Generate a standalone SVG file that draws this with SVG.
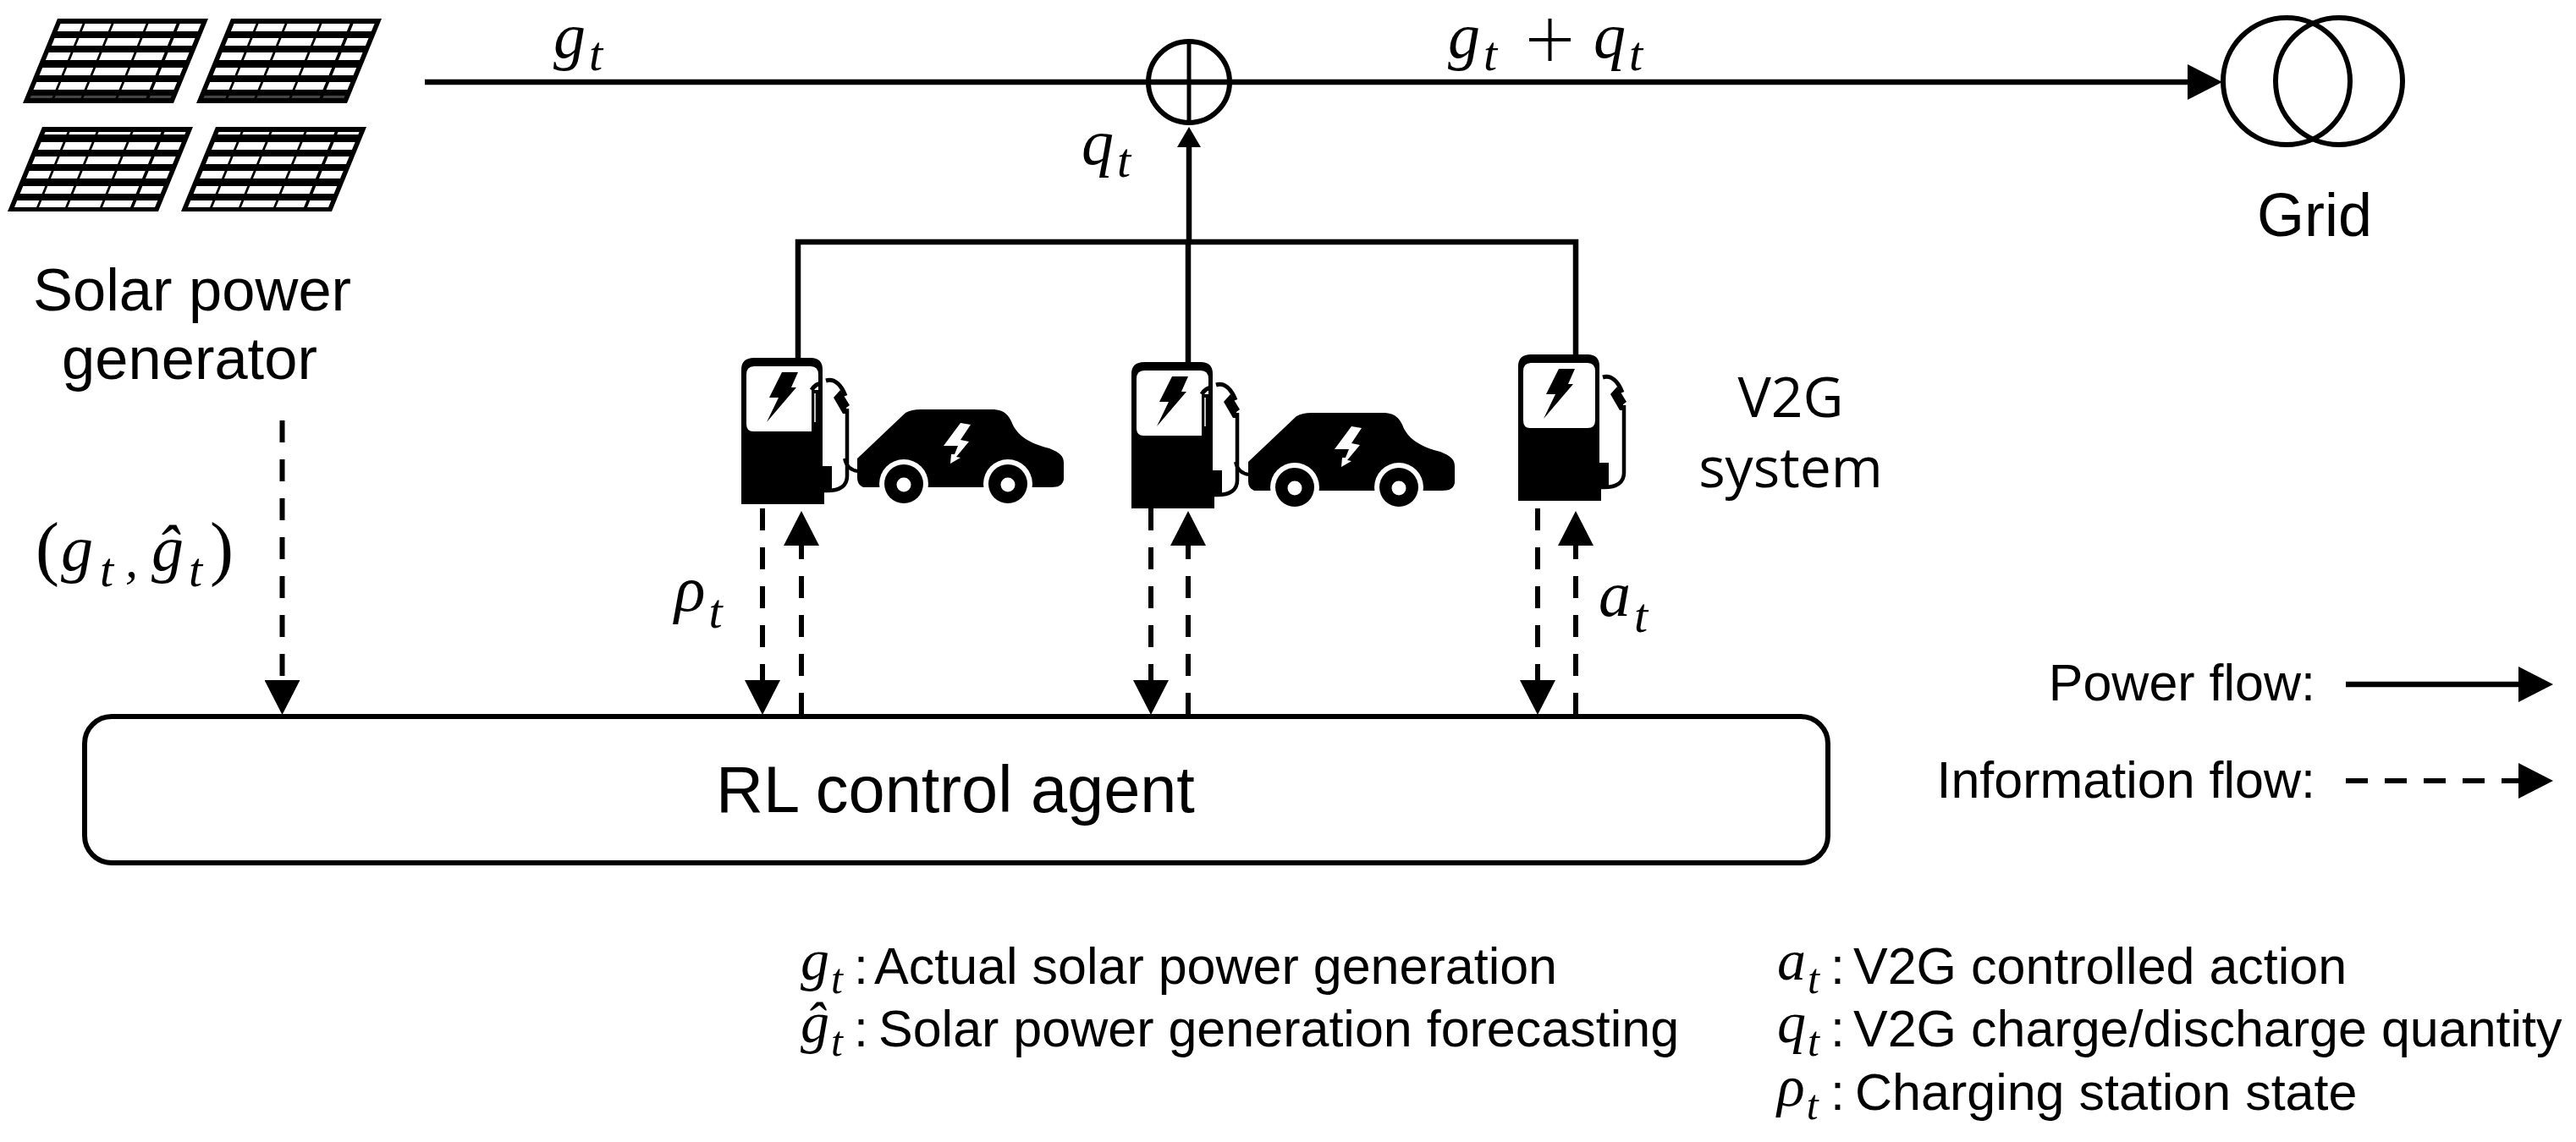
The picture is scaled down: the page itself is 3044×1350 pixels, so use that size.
<svg xmlns="http://www.w3.org/2000/svg" width="3044" height="1350" viewBox="0 0 3044 1350">
<style>
.sans{font-family:"Liberation Sans",Arial,sans-serif;fill:#000}
.math{font-family:"Liberation Serif","Times New Roman",serif;font-style:italic;fill:#000;font-size:76px}
.sub{font-size:58px}
.gm{font-family:"Liberation Serif","Times New Roman",serif;font-style:italic;fill:#000;font-size:68px}
.gs{font-size:50px}
.gt{font-family:"Liberation Sans",Arial,sans-serif;fill:#000;font-size:61px}
.solid{fill:none;stroke:#000;stroke-width:6.5}
.dash{fill:none;stroke:#000;stroke-width:6;stroke-dasharray:26 20}
.ring{fill:none;stroke:#000;stroke-width:6}
</style>
<defs>
<marker id="head" markerUnits="userSpaceOnUse" viewBox="0 0 41 42" refX="29" refY="21" markerWidth="41" markerHeight="42" orient="auto"><path d="M0 0L41 21L0 42Z" fill="#000"/></marker>
<marker id="headS" markerUnits="userSpaceOnUse" viewBox="0 0 24 28" refX="12" refY="14" markerWidth="24" markerHeight="28" orient="auto"><path d="M0 0L24 14L0 28Z" fill="#000"/></marker>
<g id="cells" fill="#fff">
<rect x="6" width="26" height="100"/><rect x="35" width="31" height="100"/><rect x="69" width="38" height="100"/><rect x="110" width="33" height="100"/><rect x="147" width="25" height="100"/>
</g>
<clipPath id="rowsA"><path d="M-50 6h300v9h-300zM-50 23h300v9h-300zM-50 40h300v9h-300zM-50 58h300v9h-300zM-50 75h300v9h-300z"/></clipPath>
<clipPath id="rowsB"><path d="M-50 6h300v3h-300zM-50 18h300v9h-300zM-50 35h300v9h-300zM-50 52h300v9h-300zM-50 70h300v9h-300zM-50 87h300v8h-300z"/></clipPath>
<g id="panelA" transform="skewX(-22.3)"><path d="M0 0H178V100H0Z" fill="#000"/><use href="#cells" clip-path="url(#rowsA)"/><path d="M6 91h26v3h-26zM35 91h31v3h-31zM69 91h38v3h-38zM110 91h33v3h-33zM147 91h25v3h-25z" fill="#444"/></g>
<g id="panelB" transform="skewX(-22.3)"><path d="M0 0H178V100H0Z" fill="#000"/><use href="#cells" clip-path="url(#rowsB)"/></g>
<g id="pump">
<path d="M0 173V14Q0 0 15 0H82Q96 0 96 14V128H107V155H98V173Z" fill="#000"/>
<path d="M15 10H82Q91 10 91 20V78Q91 87 82 87H14Q6 87 6 78V20Q6 10 15 10Z" fill="#fff"/>
<path d="M48 17H67L59 35H65L30 76L44 47H33Z" fill="#000"/>
<path d="M98 157C118 158 125 150 125 140V60" fill="none" stroke="#000" stroke-width="4.500"/>
<path d="M100 27C110 24 118 32 123 45" fill="none" stroke="#000" stroke-width="5"/>
<path d="M109 47L117 38L128 56L124 59L124 66L120 66Z" fill="#000"/>
</g>
<g id="pumpHose">
<path d="M83 38Q88 30 96 30" fill="none" stroke="#000" stroke-width="5"/>
<path d="M83 38H91V87H83Z" fill="#000"/>
<path d="M87 42V76" stroke="#fff" stroke-width="1.500" fill="none"/>
</g>
<g id="car">
<path d="M193 162L250 108Q257 104 268 104H355C368 105 372 112 375 118C382 137 400 145 420 150C433 155 437 160 437 167V187C435 196 427 196 420 196H200Q193 193 193 185Z" fill="#000"/>
<circle cx="248" cy="192" r="29" fill="#fff"/><circle cx="371" cy="192" r="29" fill="#fff"/>
<circle cx="248" cy="192" r="23" fill="#000"/><circle cx="371" cy="192" r="23" fill="#000"/>
<circle cx="248" cy="193" r="8.500" fill="#fff"/><circle cx="371" cy="193" r="8.500" fill="#fff"/>
<path d="M315 120L327 122L315 140L325 142L310 160L315 161L303 168L304 157L308 157L312 147L295 147Z" fill="#fff"/>
<path d="M178 162C180 172 186 176 194 177" fill="none" stroke="#000" stroke-width="4"/>
</g>
</defs>
<rect width="3044" height="1350" fill="#fff"/>

<g id="solar-generator">
<use href="#panelA" transform="translate(68,22)"/>
<use href="#panelA" transform="translate(273,22)"/>
<use href="#panelB" transform="translate(50,150)"/>
<use href="#panelB" transform="translate(255,150)"/>
<text class="sans" font-size="70.500" x="227" y="367" text-anchor="middle">Solar power</text>
<text class="sans" font-size="70.500" x="224" y="448" text-anchor="middle">generator</text>
</g>

<g id="connectors">
<path class="solid" d="M502 97H2614" marker-end="url(#head)"/>
<path class="solid" stroke-width="7" d="M1405 286V162" marker-end="url(#headS)"/>
<path class="solid" d="M943 423V286H1862V419M1404 286V428"/>
<path class="dash" d="M333.500 497V833" marker-end="url(#head)"/>
<path class="dash" d="M901 601V833" marker-end="url(#head)"/>
<path class="dash" d="M947 845V616" marker-end="url(#head)"/>
<path class="dash" d="M1360 601V833" marker-end="url(#head)"/>
<path class="dash" d="M1404 845V616" marker-end="url(#head)"/>
<path class="dash" d="M1817 601V833" marker-end="url(#head)"/>
<path class="dash" d="M1862 845V616" marker-end="url(#head)"/>
</g>

<g id="summing-node">
<circle class="ring" cx="1405" cy="97" r="48"/>
<path d="M1405 49V145" stroke="#000" stroke-width="5" fill="none"/>
</g>

<g id="grid">
<circle class="ring" cx="2702" cy="96" r="75"/>
<circle class="ring" cx="2764" cy="96" r="75"/>
<text class="sans" font-size="72" x="2735" y="279" text-anchor="middle">Grid</text>
</g>

<g id="station-1"><use href="#pump" transform="translate(876,423)"/><use href="#pumpHose" transform="translate(876,423)"/><use href="#car" transform="translate(820,380)"/></g>
<g id="station-2"><use href="#pump" transform="translate(1337,428)"/><use href="#pumpHose" transform="translate(1337,428)"/><use href="#car" transform="translate(1282,384)"/></g>
<g id="station-3"><use href="#pump" transform="translate(1794,419)"/></g>
<g id="v2g-label">
<text font-family="'Open Sans',sans-serif" font-size="66" x="2116" y="493" text-anchor="middle">V2G</text>
<text font-family="'Open Sans',sans-serif" font-size="66" x="2116" y="576" text-anchor="middle">system</text>
</g>

<g id="rl-agent">
<rect x="100" y="847" width="2060" height="173" rx="32" fill="#fff" stroke="#000" stroke-width="6"/>
<text class="sans" font-size="77.500" x="1129" y="960" text-anchor="middle">RL control agent</text>
</g>

<g id="math-labels">
<text class="math" x="654" y="68">g<tspan class="sub" dx="4" dy="15">t</tspan></text>
<text class="math" x="1711" y="68">g<tspan class="sub" dx="4" dy="15">t</tspan></text>
<path d="M1807 47H1856M1831.500 22V72" stroke="#000" stroke-width="4" fill="none"/>
<text class="math" x="1883" y="68">q<tspan class="sub" dx="4" dy="15">t</tspan></text>
<text class="math" x="1278" y="194">q<tspan class="sub" dx="4" dy="15">t</tspan></text>
<text class="math" x="797" y="722">ρ<tspan class="sub" dx="4" dy="20">t</tspan></text>
<text class="math" x="1889" y="728">a<tspan class="sub" dx="4" dy="19">t</tspan></text>
<text font-family="'Liberation Serif',serif" font-size="84" x="42" y="676">(</text>
<text class="math" x="72" y="674">g<tspan class="sub" dx="8" dy="19">t</tspan></text>
<text class="math" x="148" y="682" style="font-size:60px">,</text>
<text class="math" x="179" y="674">ĝ<tspan class="sub" dx="6" dy="19">t</tspan></text>
<text font-family="'Liberation Serif',serif" font-size="84" x="248" y="676">)</text>
</g>

<g id="legend">
<text class="sans" font-size="61" x="2736" y="828" text-anchor="end">Power flow:</text>
<text class="sans" font-size="61" x="2736" y="943" text-anchor="end">Information flow:</text>
<path class="solid" d="M2772 809H3005" marker-end="url(#head)"/>
<path class="dash" stroke-dasharray="25 20" d="M2772 923H3005" marker-end="url(#head)"/>
</g>

<g id="glossary">
<text class="gm" x="946" y="1158">g<tspan class="gs" dx="2" dy="16">t</tspan></text>
<text class="gt" x="1009" y="1163">:<tspan x="1033">Actual solar power generation</tspan></text>
<text class="gm" x="946" y="1232">ĝ<tspan class="gs" dx="2" dy="16">t</tspan></text>
<text class="gt" x="1009" y="1237">:<tspan x="1038">Solar power generation forecasting</tspan></text>
<text class="gm" x="2100" y="1158">a<tspan class="gs" dx="2" dy="16">t</tspan></text>
<text class="gt" x="2163" y="1163">:<tspan x="2190">V2G controlled action</tspan></text>
<text class="gm" x="2100" y="1232">q<tspan class="gs" dx="2" dy="16">t</tspan></text>
<text class="gt" x="2163" y="1237">:<tspan x="2190">V2G charge/discharge quantity</tspan></text>
<text class="gm" x="2100" y="1307">ρ<tspan class="gs" dx="2" dy="16">t</tspan></text>
<text class="gt" x="2163" y="1312">:<tspan x="2192">Charging station state</tspan></text>
</g>
</svg>
